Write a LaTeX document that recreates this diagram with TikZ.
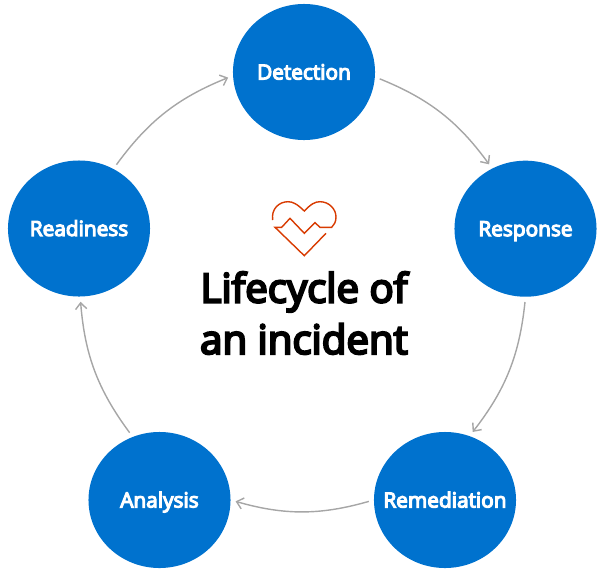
\documentclass[tikz,border=0pt]{standalone}
\usepackage{fontspec}
\setmainfont{Open Sans}
\newfontfamily\semifont{Open Sans}[FakeBold=5.5]
\usepackage{xcolor}
\usetikzlibrary{arrows.meta, shapes.geometric}
\definecolor{stageblue}{HTML}{0072CE}
\definecolor{linkgray}{HTML}{A6A6A6}
\definecolor{heartred}{HTML}{D83B01}
\tikzset{
  stage/.style={ellipse, fill=stageblue, text=white, inner sep=-1cm, minimum width=3.55cm, minimum height=3.4cm,
                text height=12pt, text depth=1.4pt, font=\fontsize{14.8}{18}\semifont},
  link/.style={linkgray, line width=1pt, -{Straight Barb[length=4.5pt,width=8pt]},
               shorten <=5*0.025cm, shorten >=5*0.025cm}
}

\begin{document}
\begin{tikzpicture}[x=0.025cm, y=-0.025cm]
  \useasboundingbox (0,0) rectangle (600,574);
  % the five stages
  \foreach \name/\x/\y/\lab in {detection/304/72/Detection,response/525.5/228.7/Response,
      remediation/445/500/Remediation,analysis/159.5/500/Analysis,readiness/79/228.5/Readiness}{
    \node[stage] (\name) at (\x,\y) {\lab};
  }
  % arrows round the ring
  \draw[link] (detection.-4) to[bend left=16] (response.119);
  \draw[link] (response.-90) to[bend left=16] (remediation.69);
  \draw[link] (remediation.180) to[bend left=16] (analysis.0);
  \draw[link] (analysis.113) to[bend left=16] (readiness.-89);
  \draw[link] (readiness.60) to[bend left=16] (detection.183);
  % heart icon
  \draw[heartred, line width=1pt]
    (272.7,220) .. controls (271,209) and (279,201.7) .. (288,201.7)
    .. controls (293,201.7) and (297,204) .. (304.3,211)
    .. controls (311,204) and (315,201.7) .. (320,201.7)
    .. controls (329,201.7) and (336,209) .. (336,217)
    .. controls (336,222) and (334,225) .. (331.7,227.3)
    -- (320,227.3) -- (315,222.7) -- (304.3,233.3) -- (290,218.3) -- (281.7,227.3)
    -- (275,227.3) -- (304.3,255.7) -- (326,233.3);
  % title
  \node[align=center, font=\fontsize{28.6}{36.6}\semifont] (title) at (304,313) {Lifecycle of\\an incident};
\end{tikzpicture}
\end{document}
